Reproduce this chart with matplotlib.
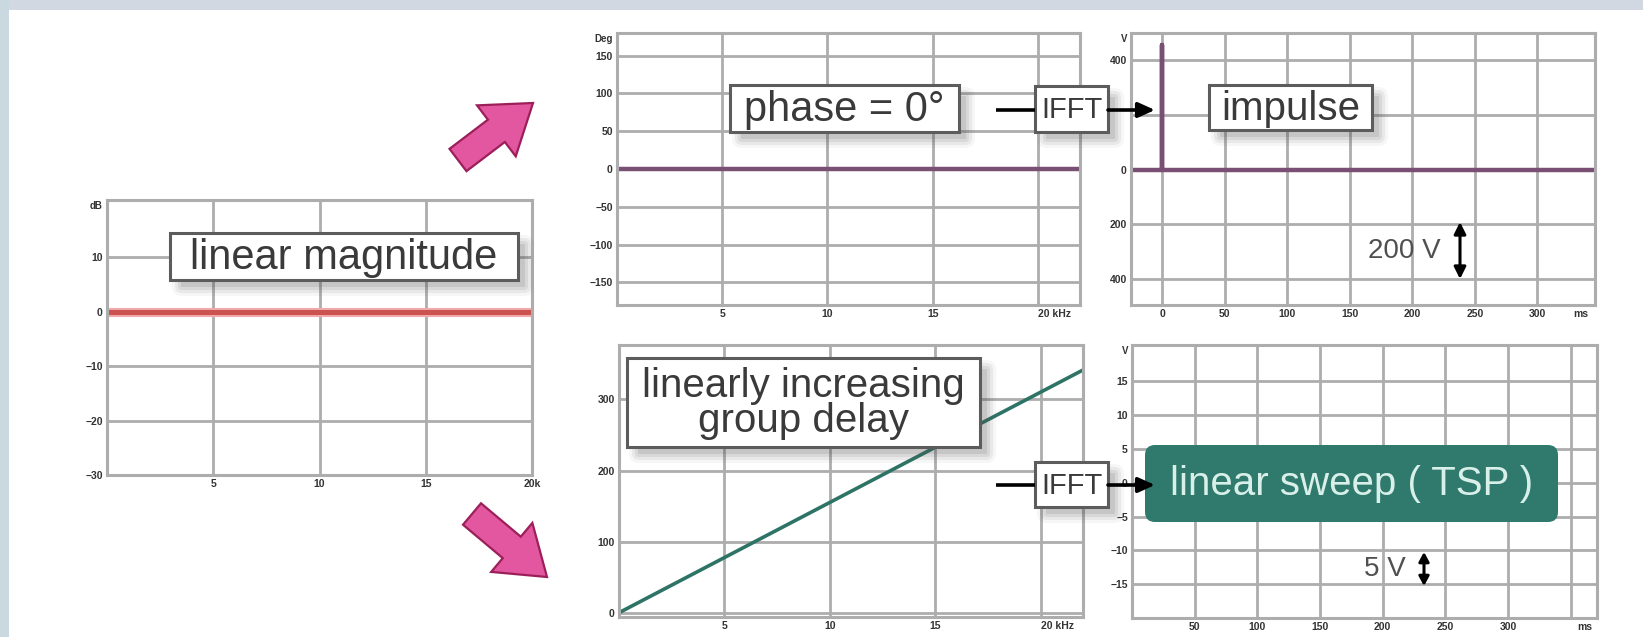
import matplotlib
matplotlib.use("Agg")
import matplotlib.pyplot as plt
from matplotlib.patches import Rectangle, FancyBboxPatch, FancyArrow

W, H = 1643, 637
DPI = 100

# ---------------- data ----------------
mag_freq_khz = [0, 20]
mag_db = [0, 0]
mag_yticks = [10, 0, -10, -20, -30]
mag_yticklabels = ["10", "0", "\u221210", "\u221220", "\u221230"]
mag_xticks = [5, 10, 15, 20]
mag_xticklabels = ["5", "10", "15", "20k"]

phase_freq_khz = [0, 22]
phase_deg = [0, 0]
phase_yticks = [150, 100, 50, 0, -50, -100, -150]
phase_yticklabels = ["150", "100", "50", "0", "\u221250", "\u2212100", "\u2212150"]
freq_xticks = [5, 10, 15, 20]
freq_xticklabels = ["5", "10", "15", "20 kHz"]

impulse_t_ms = [-25, 0, 0, 0, 346]
impulse_v = [0, 0, 455, 0, 0]
imp_yticks = [400, 200, 0, -200, -400]
imp_yticklabels = ["400", "", "0", "200", "400"]
imp_xticks = [0, 50, 100, 150, 200, 250, 300]
imp_xticklabels = ["0", "50", "100", "150", "200", "250", "300"]

gd_freq_khz = [0, 22]
gd_ms = [1, 341]
gd_yticks = [0, 100, 200, 300]
gd_yticklabels = ["0", "100", "200", "300"]

tsp_yticks = [15, 10, 5, 0, -5, -10, -15]
tsp_yticklabels = ["15", "10", "5", "0", "\u22125", "\u221210", "\u221215"]
tsp_xticks = [50, 100, 150, 200, 250, 300, 350]
tsp_xticklabels = ["50", "100", "150", "200", "250", "300", ""]

# ---------------- figure ----------------
fig = plt.figure(figsize=(W / DPI, H / DPI), dpi=DPI, facecolor="white")
FONT = "Liberation Sans"
GRID = "#adadad"
TICKC = "#333333"


def px_axes(l, t, r, b):
    return fig.add_axes([l / W, 1 - b / H, (r - l) / W, (b - t) / H])


def style(ax, xlim, ylim, xt, xtl, yt, ytl):
    ax.set_xlim(*xlim)
    ax.set_ylim(*ylim)
    ax.set_xticks(xt)
    ax.set_xticklabels(xtl)
    ax.set_yticks(yt)
    ax.set_yticklabels(ytl)
    ax.grid(True, color=GRID, lw=2.0)
    ax.set_axisbelow(True)
    for s in ax.spines.values():
        s.set_color(GRID)
        s.set_linewidth(2.2)
    ax.tick_params(length=0, pad=3, labelsize=7.5, labelcolor=TICKC)
    for lab in ax.get_xticklabels() + ax.get_yticklabels():
        lab.set_fontweight("bold")
        lab.set_family(FONT)


def unit(ax, txt, x_off=-4):
    ax.annotate(txt, xy=(0, 1), xycoords="axes fraction", xytext=(x_off, -6),
                textcoords="offset pixels", ha="right", va="center",
                fontsize=7, fontweight="bold", color=TICKC, family=FONT)


# Panel 1: magnitude
ax1 = px_axes(107, 200, 532, 475)
style(ax1, (0, 20), (-30, 20.5), mag_xticks, mag_xticklabels, mag_yticks, mag_yticklabels)
ax1.plot(mag_freq_khz, mag_db, color="#f0a8a8", lw=6.5, solid_capstyle="butt")
ax1.plot(mag_freq_khz, mag_db, color="#cc5252", lw=3.6, solid_capstyle="butt")
unit(ax1, "dB")

# Panel 2: phase
ax2 = px_axes(617, 33, 1080, 305)
style(ax2, (0, 22), (-180, 180), freq_xticks, freq_xticklabels, phase_yticks, phase_yticklabels)
ax2.get_xticklabels()[-1].set_horizontalalignment("left")
ax2.plot(phase_freq_khz, phase_deg, color="#7a4f74", lw=3.2, solid_capstyle="butt")
unit(ax2, "Deg")

# Panel 3: impulse
ax3 = px_axes(1131, 33, 1595, 305)
style(ax3, (-25, 346), (-495, 500), imp_xticks, imp_xticklabels, imp_yticks, imp_yticklabels)
ax3.plot(impulse_t_ms, impulse_v, color="#7a4f74", lw=3.2)
unit(ax3, "V")
ax3.annotate("ms", xy=(335, 0), xycoords=("data", "axes fraction"), xytext=(0, -3),
             textcoords="offset points", ha="center", va="top", fontsize=7.5,
             fontweight="bold", color=TICKC, family=FONT)

# Panel 4: group delay
ax4 = px_axes(619, 345, 1083, 617)
style(ax4, (0, 22), (-5, 376), freq_xticks, freq_xticklabels, gd_yticks, gd_yticklabels)
ax4.get_xticklabels()[-1].set_horizontalalignment("left")
ax4.plot(gd_freq_khz, gd_ms, color="#2e7466", lw=2.6)

# Panel 5: TSP
ax5 = px_axes(1132, 345, 1597, 618)
style(ax5, (0, 371), (-20, 20.4), tsp_xticks, tsp_xticklabels, tsp_yticks, tsp_yticklabels)
unit(ax5, "V")
ax5.annotate("ms", xy=(361, 0), xycoords=("data", "axes fraction"), xytext=(0, -3),
             textcoords="offset points", ha="center", va="top", fontsize=7.5,
             fontweight="bold", color=TICKC, family=FONT)

# ---------------- overlay (pixel coordinates) ----------------
ov = fig.add_axes([0, 0, 1, 1], zorder=10)
ov.set_xlim(0, W)
ov.set_ylim(H, 0)
ov.axis("off")
ov.patch.set_alpha(0)

# frame strips
ov.add_patch(Rectangle((0, 0), W, 10, fc="#d2d8e1", lw=0))
ov.add_patch(Rectangle((0, 0), 9, H, fc="#cad8e0", lw=0))


def shadow(x0, y0, x1, y1):
    for g, a in [(10, 0.05), (7, 0.08), (4, 0.10), (1, 0.13)]:
        ov.add_patch(FancyBboxPatch((x0 + 12 - g, y0 + 12 - g), (x1 - x0) + 2 * g - 6,
                                    (y1 - y0) + 2 * g - 6,
                                    boxstyle="round,pad=0,rounding_size=%d" % max(g, 1),
                                    fc="#505050", alpha=a, lw=0))


def label_box(x0, y0, x1, y1, text, fs=30, ls=1.0):
    shadow(x0, y0, x1, y1)
    ov.add_patch(Rectangle((x0, y0), x1 - x0, y1 - y0, fc="white", ec="#5c5c5c", lw=2.2))
    ov.text((x0 + x1) / 2, (y0 + y1) / 2 + 1, text, ha="center", va="center", fontsize=fs,
            color="#3a3a3a", family=FONT, linespacing=ls)


label_box(170, 233, 518, 280, "linear magnitude", fs=30)
label_box(730, 85, 959, 132, "phase = 0\u00b0", fs=30)
label_box(1209, 85, 1372, 130, "impulse", fs=29)
label_box(627, 358, 980, 447, "linearly increasing\ngroup delay", fs=29, ls=0.92)

# IFFT blocks
for yc, y0, y1 in [(110, 86, 132), (485, 462, 507)]:
    ov.plot([996, 1035], [yc, yc], color="black", lw=2.6, solid_capstyle="butt")
    label_box(1035, y0, 1108, y1, "IFFT", fs=21)
    ov.annotate("", xy=(1155, yc), xytext=(1108, yc),
                arrowprops=dict(arrowstyle="-|>,head_length=1.0,head_width=0.45",
                                color="black", lw=2.6, shrinkA=0, shrinkB=0))

# green TSP box
ov.add_patch(FancyBboxPatch((1145, 445), 1558 - 1145, 522 - 445,
                            boxstyle="round,pad=0,rounding_size=10", fc="#2f7a6c", lw=0))
ov.text((1145 + 1558) / 2, 484, "linear sweep ( TSP )", ha="center", va="center",
        fontsize=29, color="#d9efe9", family=FONT)

# scale markers
ov.text(1441, 251, "200 V", ha="right", va="center", fontsize=20, color="#505050", family=FONT)
ov.annotate("", xy=(1460, 222), xytext=(1460, 279),
            arrowprops=dict(arrowstyle="<|-|>,head_length=0.7,head_width=0.35",
                            color="black", lw=2.2, shrinkA=0, shrinkB=0))
ov.text(1406, 569, "5 V", ha="right", va="center", fontsize=20, color="#505050", family=FONT)
ov.annotate("", xy=(1424, 552), xytext=(1424, 586),
            arrowprops=dict(arrowstyle="<|-|>,head_length=0.55,head_width=0.3",
                            color="black", lw=2.2, shrinkA=0, shrinkB=0))

# pink arrows
for (tx, ty, dx, dy) in [(458, 160, 75, -57), (472, 514, 75, 63)]:
    ov.add_patch(FancyArrow(tx, ty, dx, dy, width=28, head_width=64, head_length=46,
                            length_includes_head=True, fc="#e2579f", ec="#9c1f5a", lw=1.6))

fig.savefig("out.png", dpi=DPI, facecolor="white")
